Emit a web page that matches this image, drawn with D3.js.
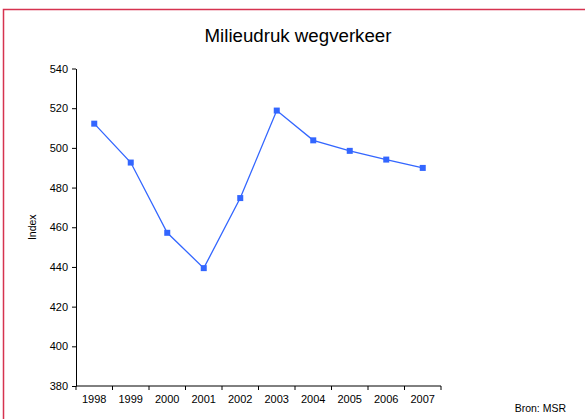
<!DOCTYPE html>
<html>
<head>
<style>
  body { margin: 0; background: #fff; }
  svg { font-family: "Liberation Sans", Arial, sans-serif; }
  .axis path, .axis line { stroke: #000; }
  .axis text { font-size: 11px; fill: #000; }
</style>
<script src="https://d3js.org/d3.v7.min.js"></script>
</head>
<body>
<svg width="585" height="419"></svg>
<script>
var years = ["1998", "1999", "2000", "2001", "2002", "2003", "2004", "2005", "2006", "2007"];
var index = [512.2, 492.6, 457.2, 439.4, 474.7, 518.8, 503.8, 498.5, 494.1, 489.9];
var yTicks = [380, 400, 420, 440, 460, 480, 500, 520, 540];

var data = years.map(function (y, i) { return { year: y, value: index[i] }; });

var svg = d3.select("svg");
var plotLeft = 76, plotRight = 441, plotTop = 68.5, plotBottom = 386;

// frame (only top and left edges fall inside the picture)
svg.append("rect")
  .attr("x", 3.5).attr("y", 9.5)
  .attr("width", 600).attr("height", 430)
  .attr("fill", "none")
  .attr("stroke", "#d6334f")
  .attr("stroke-width", 1.5);

var x = d3.scaleBand().domain(years).range([plotLeft, plotRight]);
var y = d3.scaleLinear().domain([380, 540]).range([plotBottom, plotTop]);

svg.append("text")
  .attr("x", 298).attr("y", 42)
  .attr("text-anchor", "middle")
  .attr("font-size", "18.7px")
  .text("Milieudruk wegverkeer");

// y axis
svg.append("g")
  .attr("class", "axis")
  .attr("transform", "translate(" + plotLeft + ",0)")
  .call(d3.axisLeft(y).tickValues(yTicks).tickSize(4).tickSizeOuter(0).tickPadding(4));

// x axis: ticks at category boundaries
var xAxis = svg.append("g")
  .attr("class", "axis")
  .attr("transform", "translate(0," + plotBottom + ")");
xAxis.append("line")
  .attr("x1", plotLeft).attr("x2", plotRight)
  .attr("stroke", "#000");
xAxis.selectAll(".bt")
  .data(years.concat(["end"]))
  .enter().append("line")
  .attr("x1", function (d, i) { return plotLeft + i * x.step(); })
  .attr("x2", function (d, i) { return plotLeft + i * x.step(); })
  .attr("y1", 0).attr("y2", 4)
  .attr("stroke", "#000");
xAxis.selectAll(".lbl")
  .data(years)
  .enter().append("text")
  .attr("x", function (d) { return x(d) + x.bandwidth() / 2; })
  .attr("y", 17)
  .attr("text-anchor", "middle")
  .text(function (d) { return d; });

svg.append("text")
  .attr("transform", "translate(36," + ((plotTop + plotBottom) / 2) + ") rotate(-90)")
  .attr("text-anchor", "middle")
  .attr("font-size", "10.5px")
  .text("Index");

var line = d3.line()
  .x(function (d) { return x(d.year) + x.bandwidth() / 2; })
  .y(function (d) { return y(d.value); });

svg.append("path")
  .datum(data)
  .attr("d", line)
  .attr("fill", "none")
  .attr("stroke", "#3366ff")
  .attr("stroke-width", 1.3);

svg.selectAll(".pt")
  .data(data)
  .enter().append("rect")
  .attr("x", function (d) { return x(d.year) + x.bandwidth() / 2 - 3; })
  .attr("y", function (d) { return y(d.value) - 3; })
  .attr("width", 6).attr("height", 6)
  .attr("fill", "#3366ff");

svg.append("text")
  .attr("x", 566).attr("y", 412)
  .attr("text-anchor", "end")
  .attr("font-size", "10.5px")
  .text("Bron: MSR");
</script>
</body>
</html>
